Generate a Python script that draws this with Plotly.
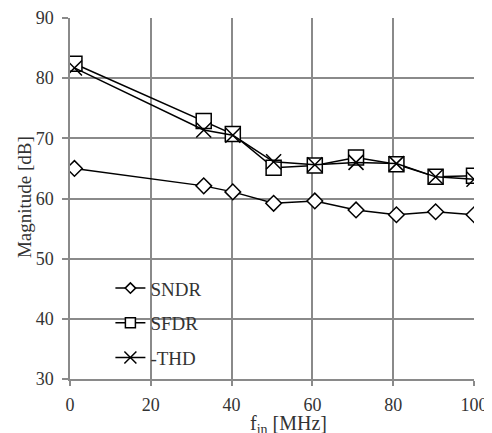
import plotly.graph_objects as go

freq = [1.1, 33.1, 40.3, 50.4, 60.6, 70.8, 80.8, 90.5, 100]
sndr = [65.0, 62.1, 61.1, 59.2, 59.6, 58.1, 57.3, 57.8, 57.3]
sfdr = [82.4, 72.9, 70.7, 65.1, 65.5, 66.8, 65.7, 63.6, 63.8]
thd = [81.7, 71.4, 70.5, 66.1, 65.6, 66.0, 65.8, 63.6, 63.2]
names = ["SNDR", "SFDR", "-THD"]
symbols = ["diamond", "square", "x-thin"]
x_ticks = [0, 20, 40, 60, 80, 100]
y_ticks = [30, 40, 50, 60, 70, 80, 90]

FONT = "Times New Roman"
GRID = "#8a8a8a"

fig = go.Figure()
series = [sndr, sfdr, thd]
sizes = [12, 15, 15]
leg_sizes = [8, 10, 12]
fills = ["white", "white", "black"]
for i, (nm, ys) in enumerate(zip(names, series)):
    fig.add_trace(go.Scatter(
        x=freq, y=ys, mode="lines+markers", name=nm, showlegend=False,
        line=dict(color="black", width=1.5),
        marker=dict(symbol=symbols[i], size=sizes[i], color=fills[i],
                    line=dict(color="black", width=1.5)),
    ))
for i, nm in enumerate(names):
    fig.add_trace(go.Scatter(
        x=[None], y=[None], mode="lines+markers", name=nm, legendgroup=nm,
        line=dict(color="black", width=1.5),
        marker=dict(symbol=symbols[i], size=leg_sizes[i], color=fills[i],
                    line=dict(color="black", width=1.5)),
    ))

# page body has an 8px margin, so the figure is sized to the visible area
fig.update_layout(
    width=484, height=425,
    margin=dict(l=62, r=18, t=10, b=54),
    paper_bgcolor="white", plot_bgcolor="white",
    font=dict(family=FONT, size=18, color="#333333"),
    showlegend=True,
    legend=dict(x=0.10, y=0.304, xanchor="left", yanchor="top",
                bgcolor="rgba(0,0,0,0)", tracegroupgap=7,
                traceorder="grouped", font=dict(size=19, family=FONT)),
    xaxis=dict(range=[0, 100], tickvals=x_ticks, showgrid=True, automargin=False,
               gridcolor=GRID, gridwidth=1.5, showline=True, linecolor=GRID,
               linewidth=1.5, ticks="outside", ticklen=5, tickcolor=GRID,
               tickwidth=1.5, zeroline=False, ticklabelstandoff=4),
    yaxis=dict(range=[30, 90], tickvals=y_ticks, showgrid=True, automargin=False,
               gridcolor=GRID, gridwidth=1.5, showline=True, linecolor=GRID,
               linewidth=1.5, ticks="outside", ticklen=6, tickcolor=GRID,
               tickwidth=1.5, zeroline=False, ticklabelstandoff=5),
    annotations=[
        dict(text="f<sub>in</sub> [MHz]", x=0.542, y=-0.127, xref="paper",
             yref="paper", xanchor="center", yanchor="middle", showarrow=False,
             font=dict(size=20, family=FONT)),
        dict(text="Magnitude [dB]", x=-0.113, y=0.505, xref="paper",
             yref="paper", xanchor="center", yanchor="middle", showarrow=False,
             textangle=-90, font=dict(size=19, family=FONT)),
    ],
)
fig.write_html("out.html")
